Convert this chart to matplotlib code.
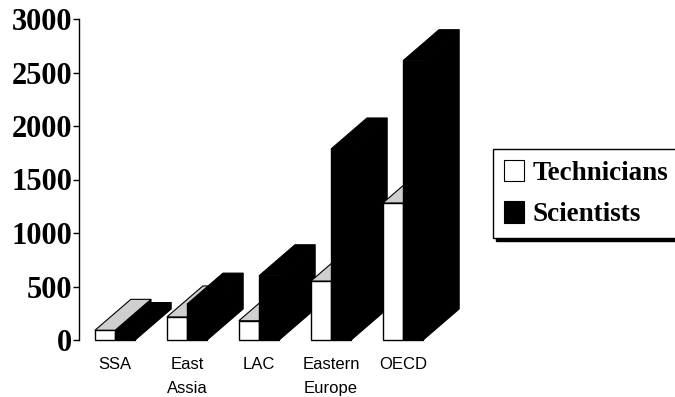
import numpy as np
import matplotlib
matplotlib.use("Agg")
import matplotlib.pyplot as plt
from matplotlib.patches import Polygon, Patch

# values
categories = ["SSA", "East\nAssia", "LAC", "Eastern\nEurope", "OECD"]
technicians = [90, 215, 180, 550, 1280]
scientists = [60, 335, 600, 1785, 2610]
yticks = [0, 500, 1000, 1500, 2000, 2500, 3000]

W, H = 675, 397
fig = plt.figure(figsize=(W / 100, H / 100), dpi=100)
ax = fig.add_axes([79 / W, 57 / H, 396 / W, 321 / H])
ax.set_xlim(-0.5, 5.0)
ax.set_ylim(0, 3000)

bw = 0.28      # bar width (category units)
ddx = 0.5      # depth offset in x
ddy = 290      # depth offset in y (value units)


def box(x0, h, face, top, side, z, edge="black"):
    # side face, then top face, then front (through ax.bar)
    x1 = x0 + bw
    ax.add_patch(Polygon([(x1, 0), (x1, h), (x1 + ddx, h + ddy), (x1 + ddx, ddy)],
                         closed=True, facecolor=side, edgecolor=edge, lw=0.8,
                         zorder=z, clip_on=False))
    ax.add_patch(Polygon([(x0, h), (x1, h), (x1 + ddx, h + ddy), (x0 + ddx, h + ddy)],
                         closed=True, facecolor=top, edgecolor=edge, lw=0.8,
                         zorder=z + 1, clip_on=False))
    ax.bar([x0], [h], width=bw, align="edge", color=face, edgecolor=edge,
           linewidth=1.0, zorder=z + 2, clip_on=False)


x = np.arange(len(categories))
for i in x:
    z = 10 + i * 10
    box(i - bw, technicians[i], "white", "#cfcfcf", "black", z)
    box(i, scientists[i], "black", "black", "black", z + 4)

ax.set_xticks(x)
ax.set_xticklabels(categories, family="Liberation Sans", fontsize=12, linespacing=1.75)
ax.tick_params(axis="x", length=0, pad=12)
ax.set_yticks(yticks)
ax.set_yticklabels([str(v) for v in yticks], family="Liberation Serif",
                   fontweight="bold", fontsize=22)
ax.tick_params(axis="y", length=4, width=1, pad=1, direction="out")
for s in ["top", "right", "bottom"]:
    ax.spines[s].set_visible(False)
ax.spines["left"].set_linewidth(1)

handles = [Patch(facecolor="white", edgecolor="black", lw=0.8),
           Patch(facecolor="black", edgecolor="black", lw=0.8)]
fig.legend(handles, ["Technicians", "Scientists"], loc="upper left",
           bbox_to_anchor=(493 / W, 1 - 149 / H), borderaxespad=0,
           prop=dict(family="Liberation Serif", weight="bold", size=19.5),
           fancybox=False, edgecolor="black", framealpha=1,
           shadow={"color": "black", "alpha": 1},
           handlelength=0.75, handleheight=0.85, handletextpad=0.3,
           borderpad=0.4, labelspacing=0.55)

fig.savefig("out.png", dpi=100)
